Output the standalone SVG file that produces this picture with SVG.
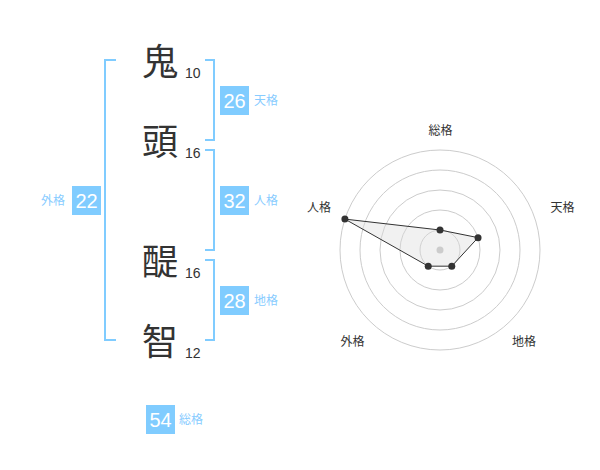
<svg xmlns="http://www.w3.org/2000/svg" width="600" height="470" viewBox="0 0 600 470">
<style>
.ch{font-family:"Noto Sans CJK JP","Noto Sans",sans-serif;font-size:36px;fill:#333;text-anchor:middle}
.num{font-family:"Liberation Sans",Arial,sans-serif;font-size:14px;fill:#333}
.br{fill:none;stroke:#80ccff;stroke-width:2}
.box{fill:#80ccff}
.bt{font-family:"Liberation Sans",Arial,sans-serif;font-size:20px;fill:#fff;text-anchor:middle}
.lb{font-family:"Noto Sans CJK JP",sans-serif;font-size:12px;fill:#88ccff}
.grid{fill:none;stroke:#ccc;stroke-width:1}
.rl{font-family:"Noto Sans CJK JP",sans-serif;font-size:12px;fill:#333;text-anchor:middle}
.pt{fill:#333}
</style>
<rect width="600" height="470" fill="#fff"/>
<g id="chars">
<g id="c1"><text class="ch" x="160" y="75">鬼</text><text class="num" x="185" y="78">10</text></g>
<g id="c2"><text class="ch" x="160" y="155">頭</text><text class="num" x="185" y="158">16</text></g>
<g id="c3"><text class="ch" x="160" y="275">醍</text><text class="num" x="185" y="278">16</text></g>
<g id="c4"><text class="ch" x="160" y="355">智</text><text class="num" x="185" y="358">12</text></g>
</g>
<g id="brackets">
<path class="br" d="M116,60 H105 V340 H116"/>
<path class="br" d="M205,60 H214 V140 H205"/>
<path class="br" d="M205,150 H214 V250 H205"/>
<path class="br" d="M205,260 H214 V340 H205"/>
</g>
<g id="tenkaku"><rect class="box" x="220" y="86" width="29" height="29"/><text class="bt" x="234.5" y="108">26</text><text class="lb" x="254" y="105">天格</text></g>
<g id="jinkaku"><rect class="box" x="220" y="186" width="29" height="29"/><text class="bt" x="234.5" y="208">32</text><text class="lb" x="254" y="205">人格</text></g>
<g id="chikaku"><rect class="box" x="220" y="286" width="29" height="29"/><text class="bt" x="234.5" y="308">28</text><text class="lb" x="254" y="305">地格</text></g>
<g id="gaikaku"><rect class="box" x="72" y="186" width="29" height="29"/><text class="bt" x="86.5" y="208">22</text><text class="lb" x="41" y="205">外格</text></g>
<g id="soukaku"><rect class="box" x="146" y="405" width="29" height="29"/><text class="bt" x="160.5" y="427">54</text><text class="lb" x="179" y="424">総格</text></g>
<g id="radar">
<circle class="grid" cx="440" cy="250" r="20"/>
<circle class="grid" cx="440" cy="250" r="40"/>
<circle class="grid" cx="440" cy="250" r="60"/>
<circle class="grid" cx="440" cy="250" r="80"/>
<circle class="grid" cx="440" cy="250" r="100"/>
<polygon points="440,230 478.04,237.64 451.76,266.18 428.24,266.18 344.9,219.1" fill="#ddd" fill-opacity="0.4" stroke="#333" stroke-width="1"/>
<circle cx="440" cy="250" r="3.5" fill="#ccc"/>
<circle class="pt" cx="440" cy="230" r="3.5"/>
<circle class="pt" cx="478.04" cy="237.64" r="3.5"/>
<circle class="pt" cx="451.76" cy="266.18" r="3.5"/>
<circle class="pt" cx="428.24" cy="266.18" r="3.5"/>
<circle class="pt" cx="344.9" cy="219.1" r="3.5"/>
<text class="rl" x="440.5" y="135">総格</text>
<text class="rl" x="562.5" y="212">天格</text>
<text class="rl" x="524" y="346">地格</text>
<text class="rl" x="352.5" y="346">外格</text>
<text class="rl" x="319" y="212">人格</text>
</g>
</svg>
